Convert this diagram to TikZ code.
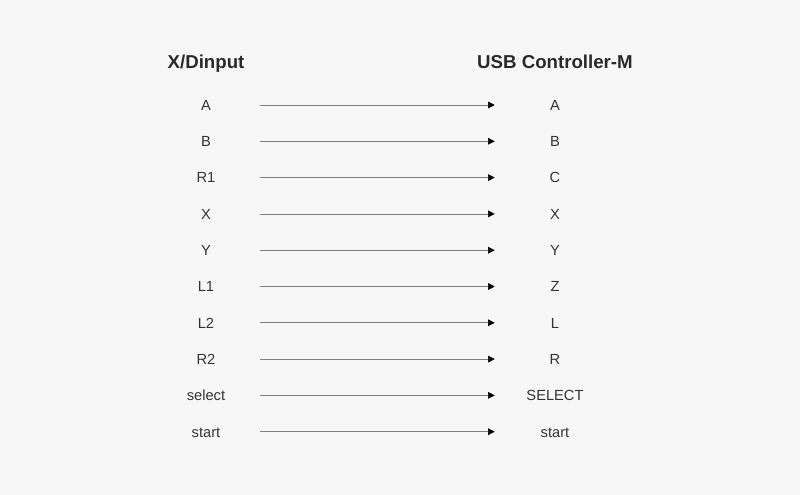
\documentclass[tikz,border=0pt]{standalone}
\usepackage{fontspec}
\setmainfont{Liberation Sans}
\usetikzlibrary{arrows.meta,positioning}
\definecolor{pagebg}{HTML}{F7F7F7}
\definecolor{ink}{HTML}{333333}
\definecolor{wire}{HTML}{808080}

\begin{document}
\begin{tikzpicture}[
		x=0.75pt, y=-0.75pt,
		head/.style={font=\bfseries\fontsize{14}{16}\selectfont, text=ink!80!black, anchor=base},
		inkey/.style={font=\fontsize{11}{13}\selectfont, text=ink, inner sep=0pt, text height=8pt, text depth=0pt, minimum width=81pt},
		outkey/.style={font=\fontsize{11}{13}\selectfont, text=ink, inner sep=0pt, text height=8pt, text depth=0pt, minimum width=90pt},
		arrow/.style={-{Triangle[length=5pt,width=5pt,color=black]}, draw=wire, line width=0.5pt},
	]
		\fill[pagebg] (0,0) rectangle (800,495);
		\node[head] (src) at (206,69) {X/Dinput};
		\node[head] (dst) at (555,69) {USB Controller-M};
		
		\foreach \a/\b [count=\i] in {A/A, B/B, R1/C, X/X, Y/Y, L1/Z, L2/L, R2/R, select/SELECT, start/start} {
			\node[inkey] (in\i) at (206,{105+36.3*(\i-1)}) {\a};
			\node[outkey] (out\i) at (555,{105+36.3*(\i-1)}) {\b};
			\draw[arrow] (in\i) -- (out\i);
		}
	\end{tikzpicture}
\end{document}
